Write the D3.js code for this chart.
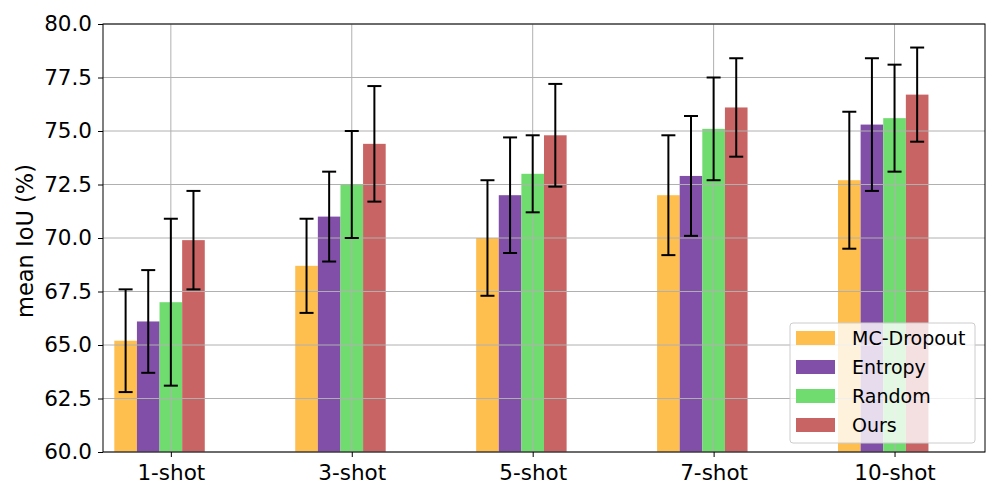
<!DOCTYPE html>
<html>
<head>
<meta charset="utf-8">
<script src="https://cdn.jsdelivr.net/npm/d3@7"></script>
<style>
  html, body { margin: 0; padding: 0; background: #fff; }
  svg { display: block; font-family: "DejaVu Sans", sans-serif; }
</style>
</head>
<body>
<svg id="chart" width="1000" height="500"></svg>
<script>
const categories = ["1-shot", "3-shot", "5-shot", "7-shot", "10-shot"];
const seriesNames = ["MC-Dropout", "Entropy", "Random", "Ours"];
const seriesColors = ["#FFBF4F", "#814FA8", "#70DC70", "#C96464"];
const mcDropout = [65.2, 68.7, 70.0, 72.0, 72.7];
const mcDropoutErr = [2.4, 2.2, 2.7, 2.8, 3.2];
const entropy = [66.1, 71.0, 72.0, 72.9, 75.3];
const entropyErr = [2.4, 2.1, 2.7, 2.8, 3.1];
const random = [67.0, 72.5, 73.0, 75.1, 75.6];
const randomErr = [3.9, 2.5, 1.8, 2.4, 2.5];
const ours = [69.9, 74.4, 74.8, 76.1, 76.7];
const oursErr = [2.3, 2.7, 2.4, 2.3, 2.2];
const yTicks = [60.0, 62.5, 65.0, 67.5, 70.0, 72.5, 75.0, 77.5, 80.0];

const values = [mcDropout, entropy, random, ours];
const errors = [mcDropoutErr, entropyErr, randomErr, oursErr];

const svg = d3.select("#chart");
const L = 103, R = 985, T = 24, B = 452;
const barW = 0.125;
const tickFont = 21.5;

const x = d3.scaleLinear().domain([-0.375, 4.5]).range([L, R]);
const y = d3.scaleLinear().domain([60, 80]).range([B, T]);

svg.append("clipPath").attr("id", "clip")
  .append("rect").attr("x", L).attr("y", T).attr("width", R - L).attr("height", B - T);

const plot = svg.append("g").attr("clip-path", "url(#clip)");

// bars
values.forEach((vals, k) => {
  plot.append("g").selectAll("rect").data(vals).enter().append("rect")
    .attr("x", (d, i) => x(i + (k - 2) * barW - barW / 2))
    .attr("width", x(barW) - x(0))
    .attr("y", d => y(d))
    .attr("height", d => y(60) - y(d))
    .attr("fill", seriesColors[k]);
});

// grid (drawn above bars)
const grid = svg.append("g");
grid.selectAll("line.h").data(yTicks).enter().append("line")
  .attr("x1", L).attr("x2", R)
  .attr("y1", d => y(d)).attr("y2", d => y(d))
  .attr("stroke", "#b0b0b0").attr("stroke-width", 1);
grid.selectAll("line.v").data(categories).enter().append("line")
  .attr("x1", (d, i) => x(i)).attr("x2", (d, i) => x(i))
  .attr("y1", T).attr("y2", B)
  .attr("stroke", "#b0b0b0").attr("stroke-width", 1);

// error bars
values.forEach((vals, k) => {
  const g = svg.append("g");
  vals.forEach((v, i) => {
    const cx = x(i + (k - 2) * barW);
    const e = errors[k][i];
    g.append("line").attr("x1", cx).attr("x2", cx)
      .attr("y1", y(v - e)).attr("y2", y(v + e))
      .attr("stroke", "#000").attr("stroke-width", 2);
    [v - e, v + e].forEach(c => {
      g.append("line").attr("x1", cx - 7).attr("x2", cx + 7)
        .attr("y1", y(c)).attr("y2", y(c))
        .attr("stroke", "#000").attr("stroke-width", 2);
    });
  });
});

// axes
const xAxis = d3.axisBottom(x).tickValues(categories.map((c, i) => i))
  .tickFormat((d, i) => categories[i]).tickSize(5).tickPadding(7.5);
const gx = svg.append("g").attr("transform", `translate(0,${B})`).call(xAxis);
gx.select(".domain").remove();
gx.selectAll("text").attr("font-size", tickFont).attr("fill", "#000").attr("font-family", "DejaVu Sans");
gx.selectAll("line").attr("stroke", "#000");

const yAxis = d3.axisLeft(y).tickValues(yTicks).tickFormat(d3.format(".1f")).tickSize(5).tickPadding(6);
const gy = svg.append("g").attr("transform", `translate(${L},0)`).call(yAxis);
gy.select(".domain").remove();
gy.selectAll("text").attr("font-size", tickFont).attr("fill", "#000").attr("font-family", "DejaVu Sans");
gy.selectAll("line").attr("stroke", "#000");

// spines
svg.append("rect").attr("x", L).attr("y", T).attr("width", R - L).attr("height", B - T)
  .attr("fill", "none").attr("stroke", "#000").attr("stroke-width", 1);

// y label
svg.append("text")
  .attr("transform", `translate(33,${(T + B) / 2 + 3}) rotate(-90)`)
  .attr("text-anchor", "middle")
  .attr("font-size", 22.5)
  .attr("fill", "#000")
  .text("mean IoU (%)");

// legend
const lg = svg.append("g").attr("transform", "translate(790,323)");
lg.append("rect").attr("x", 0).attr("y", 0).attr("width", 185).attr("height", 120)
  .attr("rx", 3).attr("fill", "#fff").attr("fill-opacity", 0.8)
  .attr("stroke", "#cccccc").attr("stroke-width", 1);
seriesNames.forEach((name, k) => {
  const yy = 15 + k * 29;
  lg.append("rect").attr("x", 6).attr("y", yy - 7).attr("width", 39).attr("height", 14)
    .attr("fill", seriesColors[k]);
  lg.append("text").attr("x", 62).attr("y", yy).attr("dy", "0.35em")
    .attr("font-size", 19).attr("fill", "#000").text(name);
});
</script>
</body>
</html>
